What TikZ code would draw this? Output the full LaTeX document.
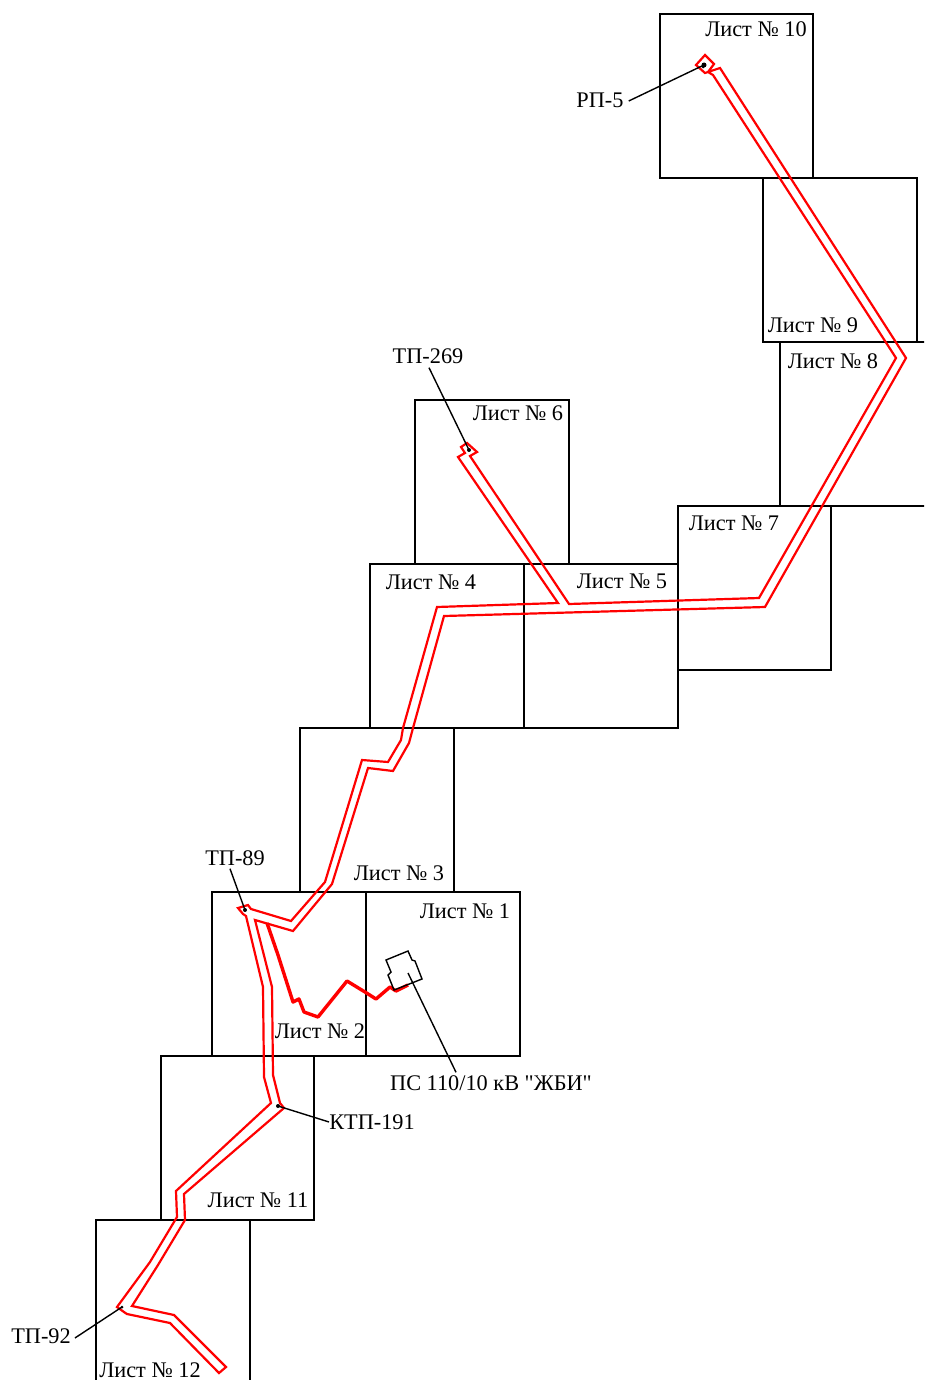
\documentclass[tikz,border=0pt]{standalone}
\usepackage{fontspec}
\setmainfont{Liberation Serif}
\newfontfamily\rawfont{Liberation Serif}
\tikzset{
  sheet/.style={draw=black,line width=1.4pt,minimum width=#1,inner sep=0pt,outer sep=0pt},
  lbl/.style={inner sep=0pt,font=\fontsize{22.3}{24}\selectfont},
  leader/.style={draw=black,line width=1.4pt},
  cable/.style={draw=red,line width=2.2pt,line join=miter},
  thickcable/.style={draw=red,line width=3.4pt,line join=round},
  outline/.style={draw=black,line width=1.4pt},
  tip/.style={circle,fill=black,inner sep=0pt,minimum size=4pt}
}
\begin{document}
\begin{tikzpicture}[x=1pt,y=-1pt]
\useasboundingbox (0,0) rectangle (924,1380);
\clip (0,0) rectangle (924,1380);
% sheets
\foreach \n/\xa/\ya/\w in {s10/660/14/153,s9/763/178/154,s8/780/342/154,s7/678/506/153,s6/415/400/154,s5/524/564/154,s4/370/564/154,s3/300/728/154,s1/366/892/154,s2/212/892/154,s11/161/1056/153,s12/96/1220/154}{
  \node[sheet=\w pt,minimum height=164pt,anchor=north west] (\n) at (\xa,\ya) {};
}
% main cable outline
\draw[cable] (465,453) -- (461,447) -- (467,443) -- (477,452) -- (470,456) -- (569,604) -- (759,598) -- (896,358) -- (713,75) -- (708,72) -- (705,73) -- (696,65) -- (705,55) -- (714,64) -- (708,72) -- (720,68) -- (906,358) -- (765,607) -- (444,616) -- (413,728) -- (409,743) -- (393,771) -- (368,768) -- (332,884) -- (293,931) -- (255,920) -- (272,987) -- (273,1075) -- (280,1103) -- (284,1108) -- (184,1194) -- (185,1220) -- (158,1265) -- (132,1306) -- (174,1315) -- (226,1367) -- (219,1373) -- (170,1323) -- (127,1314) -- (124,1312) -- (117,1307) -- (150,1262) -- (177,1217) -- (176,1191) -- (271,1103) -- (264,1077) -- (263,987) -- (246,916) -- (243,914) -- (238,908) -- (248,905) -- (251,909) -- (291,921) -- (325,882) -- (362,760) -- (388,762) -- (401,740) -- (403,728) -- (437,607) -- (558,603) -- (458,457) -- cycle;
% feeder from the substation
\draw[thickcable] (267,923) -- (278,955) -- (293,1002) -- (299,999) -- (304,1012) -- (318,1017) -- (347,981) -- (365,992) -- (376,999) -- (390,987) -- (396,991) -- (408,985);
% substation
\draw[outline] (386,960) -- (408,951) -- (412,960) -- (415,961) -- (422,979) -- (394,990) -- (388,975) -- (391,972) -- cycle;
% end points
\node[tip,minimum size=5pt] (rp) at (704,65) {};
\node[tip,minimum size=3pt] (rpb) at (703,67) {};
\node[tip] (tp269) at (469,450) {};
\node[tip] (tp89) at (245,910) {};
\node[tip] (ktp) at (278,1106) {};
\node[tip,minimum size=3pt] (tp92) at (122,1307) {};
\coordinate (ps) at (408,973);
% labels
\node[lbl] at (756,29) {Лист № 10};
\node[lbl] at (813,325) {Лист № 9};
\node[lbl] at (833,361) {Лист № 8};
\node[lbl] at (734,523) {Лист № 7};
\node[lbl] at (518,413) {Лист № 6};
\node[lbl] at (622,581) {Лист № 5};
\node[lbl] at (431,582) {Лист № 4};
\node[lbl] at (399,873) {Лист № 3};
\node[lbl] at (465,911) {Лист № 1};
\node[lbl] at (320,1031) {Лист № 2};
\node[lbl] at (258,1200) {Лист № 11};
\node[lbl] at (150,1370.5) {Лист № 12};
\node[lbl] (lrp) at (600,100) {РП-5};
\node[lbl] (l269) at (428,356) {ТП-269};
\node[lbl] (l89) at (235,858) {ТП-89};
\node[lbl] (lktp) at (372,1122) {КТП-191};
\node[lbl] (l92) at (41,1336) {ТП-92};
\node[lbl] (lps) at (491,1083) {ПС 110/10 кВ {\rawfont"}ЖБИ{\rawfont"}};
% leaders
\draw[leader] (lrp.east) ++(5,1) -- (rp.center);
\draw[leader] (l269.south) ++(1,4) -- (tp269.center);
\draw[leader] (l89.south) ++(-5,3) -- (tp89.center);
\draw[leader] (lktp.west) -- (ktp.center);
\draw[leader] (l92.east) ++(4,2) -- (tp92.center);
\draw[leader] (lps.north) ++(-35,-3) -- (ps);
\end{tikzpicture}
\end{document}
